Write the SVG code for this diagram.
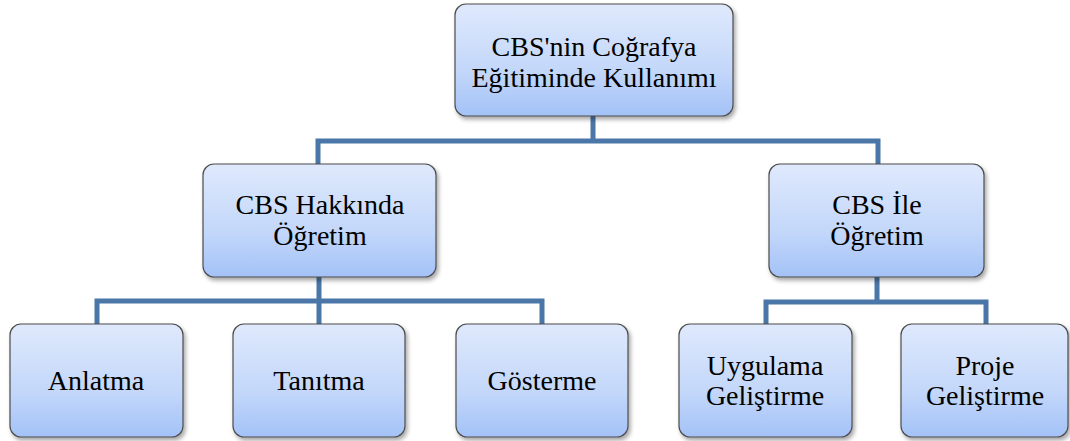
<svg xmlns="http://www.w3.org/2000/svg" width="1070" height="441" viewBox="0 0 1070 441">
<defs>
<linearGradient id="g" x1="0" y1="0" x2="0" y2="1">
<stop offset="0" stop-color="#dfe9fc"/>
<stop offset="0.6" stop-color="#c3d7fa"/>
<stop offset="1" stop-color="#a3c2f7"/>
</linearGradient>
<filter id="sh" x="-10%" y="-10%" width="130%" height="130%">
<feDropShadow dx="2" dy="3" stdDeviation="2" flood-color="#000" flood-opacity="0.35"/>
</filter>
</defs>
<style>
.box{fill:url(#g);stroke:#4d4d4d;stroke-width:1.2;filter:url(#sh)}
.t{font-size:28px;fill:#000;text-anchor:middle}
.c{fill:none;stroke:#4a76a8;stroke-width:5}
</style>
<rect width="1070" height="441" fill="#fff"/>
<g id="connectors">
<path class="c" d="M593 116 V141 M318 165 V141 H878 V165"/>
<path class="c" d="M319 277 V301 M97 324 V301 H542 V324 M319 301 V324"/>
<path class="c" d="M877 277 V302 M766 324 V302 H986 V324"/>
</g>
<g font-family="Liberation Serif">
<g id="root">
<rect class="box" x="455" y="4" width="278" height="112" rx="11"/>
<text class="t" x="594" y="56" font-family="Liberation Serif">CBS'nin Coğrafya</text>
<text class="t" x="594" y="87" font-family="Liberation Serif">Eğitiminde Kullanımı</text>
</g>
<g id="hakkinda">
<rect class="box" x="203" y="164" width="233" height="113" rx="11"/>
<text class="t" x="320" y="214" font-family="Liberation Serif">CBS Hakkında</text>
<text class="t" x="320" y="245" font-family="Liberation Serif">Öğretim</text>
</g>
<g id="ile">
<rect class="box" x="769" y="164" width="215" height="113" rx="11"/>
<text class="t" x="877" y="214" font-family="Liberation Serif">CBS İle</text>
<text class="t" x="877" y="245" font-family="Liberation Serif">Öğretim</text>
</g>
<g id="anlatma">
<rect class="box" x="10" y="324" width="173" height="113" rx="11"/>
<text class="t" x="96" y="390" font-family="Liberation Serif">Anlatma</text>
</g>
<g id="tanitma">
<rect class="box" x="233" y="324" width="172" height="113" rx="11"/>
<text class="t" x="319" y="390" font-family="Liberation Serif">Tanıtma</text>
</g>
<g id="gosterme">
<rect class="box" x="456" y="324" width="172" height="113" rx="11"/>
<text class="t" x="542" y="390" font-family="Liberation Serif">Gösterme</text>
</g>
<g id="uygulama">
<rect class="box" x="679" y="324" width="173" height="113" rx="11"/>
<text class="t" x="765" y="375" font-family="Liberation Serif">Uygulama</text>
<text class="t" x="765" y="405" font-family="Liberation Serif">Geliştirme</text>
</g>
<g id="proje">
<rect class="box" x="901" y="324" width="167" height="113" rx="11"/>
<text class="t" x="985" y="375" font-family="Liberation Serif">Proje</text>
<text class="t" x="985" y="405" font-family="Liberation Serif">Geliştirme</text>
</g>
</g>
</svg>
